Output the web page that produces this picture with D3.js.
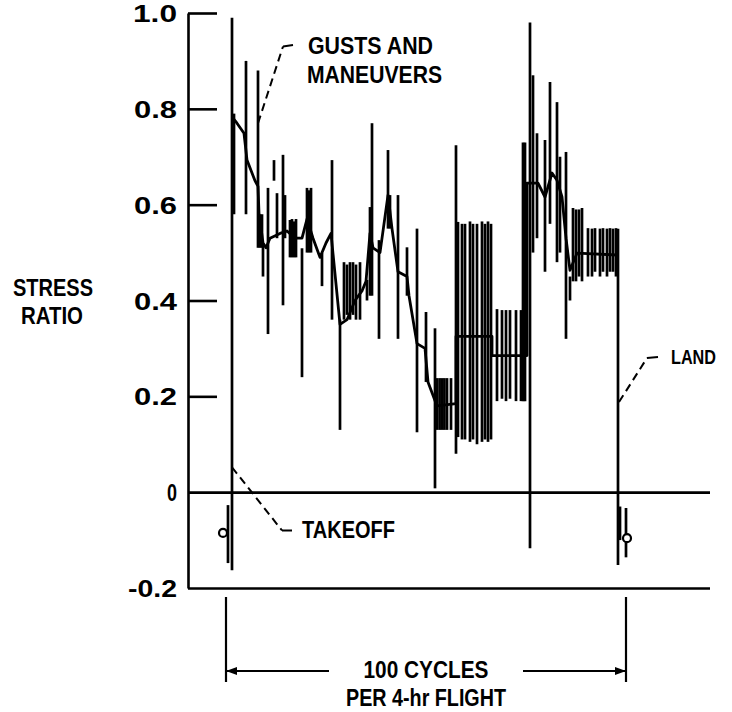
<!DOCTYPE html>
<html><head><meta charset="utf-8">
<script src="https://cdn.jsdelivr.net/npm/d3@7/dist/d3.min.js"></script>
<style>body{margin:0;background:#fff}svg{display:block}</style>
</head><body>
<script>
// ---------- DATA ----------
const yTicks = [-0.2, 0, 0.2, 0.4, 0.6, 0.8, 1.0];
const yTickLabels = ["-0.2", "0", "0.2", "0.4", "0.6", "0.8", "1.0"];

// range bars (cycle position, lowest stress ratio, highest stress ratio)
const barCycle = [0.5, 1.5, 2.0, 5.0, 8.0, 8.5, 9.0, 9.25, 10.5, 12.0, 12.75, 14.25, 14.75,
  16.0, 16.5, 17.0, 17.5, 19.0, 20.25, 20.75, 21.25, 24.0, 26.5, 28.5,
  29.5, 30.25, 31.0, 31.75, 32.5, 33.5, 35.25, 36.0, 36.5, 38.25, 40.5, 41.0, 43.0, 45.25,
  47.75, 50.0, 52.25, 52.75, 53.4, 54.0, 54.6, 55.25, 56.25, 57.5,
  58.0, 59.0, 59.75, 61.0, 61.75, 62.75, 64.0, 64.75, 65.5, 66.25,
  67.75, 69.0, 70.0, 71.0, 72.5, 73.75, 74.25, 74.75, 76.0, 76.75, 77.75, 79.75, 81.0, 82.75,
  83.5, 85.0, 86.0, 86.75, 87.5, 88.25, 89.0,
  90.5, 91.5, 92.25, 93.5, 94.25, 95.25, 96.0, 96.75, 97.5, 98.0, 98.5, 100.0];
const barLow = [-0.148, -0.163, 0.58, 0.58, 0.51, 0.51, 0.51, 0.45, 0.33, 0.65, 0.53, 0.39, 0.53,
  0.49, 0.49, 0.49, 0.49, 0.24, 0.50, 0.50, 0.50, 0.43, 0.36, 0.13,
  0.36, 0.37, 0.36, 0.37, 0.36, 0.36, 0.40, 0.41, 0.41, 0.32, 0.55, 0.55, 0.32, 0.41,
  0.125, 0.23, 0.008, 0.13, 0.13, 0.13, 0.13, 0.13, 0.13, 0.08,
  0.115, 0.11, 0.11, 0.105, 0.11, 0.10, 0.105, 0.11, 0.105, 0.11,
  0.19, 0.195, 0.19, 0.195, 0.19, 0.19, 0.19, 0.19, -0.117, 0.50, 0.53, 0.46, 0.56, 0.48,
  0.50, 0.32, 0.40, 0.44, 0.44, 0.45, 0.44,
  0.45, 0.45, 0.46, 0.45, 0.46, 0.45, 0.46, 0.46, 0.45, -0.152, -0.03, -0.136];
const barHigh = [-0.027, 0.99, 0.79, 0.90, 0.88, 0.58, 0.58, 0.52, 0.635, 0.693, 0.624, 0.704, 0.62,
  0.568, 0.57, 0.565, 0.57, 0.509, 0.635, 0.63, 0.635, 0.499, 0.693, 0.36,
  0.48, 0.475, 0.48, 0.48, 0.475, 0.48, 0.443, 0.595, 0.77, 0.526, 0.714, 0.62, 0.62, 0.511,
  0.55, 0.376, 0.342, 0.238, 0.238, 0.238, 0.238, 0.238, 0.238, 0.724,
  0.564, 0.56, 0.56, 0.565, 0.56, 0.56, 0.565, 0.56, 0.565, 0.56,
  0.382, 0.38, 0.38, 0.38, 0.38, 0.38, 0.73, 0.73, 0.98, 0.87, 0.749, 0.735, 0.856, 0.814,
  0.70, 0.71, 0.45, 0.593, 0.59, 0.59, 0.593,
  0.551, 0.55, 0.551, 0.55, 0.551, 0.55, 0.551, 0.55, 0.551, 0.55, -0.10, -0.033];

// mean stress ratio trace
const meanCycle = [1.5, 2.75, 4.5, 5.25, 7.25, 8.0, 8.25, 9.25, 10.0, 11.0, 13.5, 15.25, 17.25, 19.0,
  20.25, 21.75, 23.5, 25.0, 26.25, 28.5, 30.25, 32.25, 34.0, 35.0, 36.0, 36.75, 38.5, 40.5, 41.5,
  43.0, 45.25, 45.75, 47.75, 49.75, 50.5, 52.75, 57.5, 57.5, 66.5, 66.5, 75.25, 75.25, 78.0,
  79.75, 81.5, 82.75, 84.0, 85.0, 86.0, 87.75, 97.75];
const meanValue = [0.783, 0.77, 0.749, 0.693, 0.65, 0.638, 0.582, 0.52, 0.51, 0.53, 0.54, 0.545, 0.53, 0.53,
  0.57, 0.53, 0.49, 0.52, 0.54, 0.35, 0.36, 0.40, 0.42, 0.44, 0.54, 0.51, 0.50, 0.62, 0.55,
  0.46, 0.45, 0.41, 0.31, 0.30, 0.23, 0.18, 0.185, 0.325, 0.325, 0.285, 0.285, 0.645, 0.645,
  0.616, 0.666, 0.651, 0.616, 0.53, 0.463, 0.499, 0.495];

// ground-phase markers (cycle, stress ratio)
const markerCycle = [-0.75, 100.25];
const markerValue = [-0.085, -0.096];

// ---------- LAYOUT ----------
const W = 732, H = 712;
const FONT = "'Liberation Sans', Arial, sans-serif";
const svg = d3.select("body").append("svg").attr("width", W).attr("height", H);
const x = d3.scaleLinear().domain([0, 100]).range([226, 626]);
const y = d3.scaleLinear().domain([-0.2, 1.0]).range([588, 13]);
const axisX = 188, lineEnd = 710;
const labelWidths = {"-0.2": 49, "0": 10, "0.2": 43, "0.4": 43, "0.6": 43, "0.8": 43, "1.0": 44};

function label(txt, cx, cy, width, anchor, size) {
  const s = size || 23;
  svg.append("text").attr("x", cx).attr("y", cy + s * 0.37)
    .attr("text-anchor", anchor || "start")
    .attr("font-family", FONT).attr("font-weight", "bold").attr("font-size", s)
    .attr("textLength", width).attr("lengthAdjust", "spacingAndGlyphs")
    .attr("fill", "#000").text(txt);
}

// y axis
const yAxis = d3.axisLeft(y).tickValues(yTicks)
  .tickFormat((d, i) => yTickLabels[i])
  .tickSizeInner(-29).tickSizeOuter(0).tickPadding(11);
const gy = svg.append("g").attr("transform", `translate(${axisX},0)`).call(yAxis);
gy.select(".domain").attr("stroke", "#000").attr("stroke-width", 2.6);
gy.selectAll(".tick line").attr("stroke", "#000").attr("stroke-width", 2.6)
  .attr("x2", d => (d <= 0 ? lineEnd - axisX : 29));
gy.selectAll(".tick text").attr("fill", "#000")
  .attr("font-family", FONT).attr("font-weight", "bold").attr("font-size", 23)
  .attr("dy", null).attr("dominant-baseline", null)
  .attr("y", 8.5)
  .attr("textLength", (d, i) => labelWidths[yTickLabels[i]])
  .attr("lengthAdjust", "spacingAndGlyphs");

label("STRESS", 53, 287, 80, "middle");
label("RATIO", 52, 315, 62, "middle");

// range bars
svg.append("g").selectAll("line").data(d3.range(barCycle.length)).join("line")
  .attr("x1", i => x(barCycle[i])).attr("x2", i => x(barCycle[i]))
  .attr("y1", i => y(barLow[i])).attr("y2", i => y(barHigh[i]))
  .attr("stroke", "#000").attr("stroke-width", 2.7);

// mean trace
svg.append("path")
  .datum(d3.range(meanCycle.length))
  .attr("d", d3.line().x(i => x(meanCycle[i])).y(i => y(meanValue[i])))
  .attr("fill", "none").attr("stroke", "#000").attr("stroke-width", 2.8)
  .attr("stroke-linejoin", "round");

// markers
svg.append("g").selectAll("circle").data(d3.range(markerCycle.length)).join("circle")
  .attr("cx", i => x(markerCycle[i])).attr("cy", i => y(markerValue[i]))
  .attr("r", 4).attr("fill", "#fff").attr("stroke", "#000").attr("stroke-width", 2.2);

// annotations with leaders
function leader(pts) {
  const ln = d3.line();
  svg.append("path").attr("d", ln(pts.slice(0, 2))).attr("fill", "none")
    .attr("stroke", "#000").attr("stroke-width", 2).attr("stroke-dasharray", "8,5");
  svg.append("path").attr("d", ln(pts.slice(1))).attr("fill", "none")
    .attr("stroke", "#000").attr("stroke-width", 2);
}
leader([[x(8.0), y(0.77)], [x(14.25), y(0.93)], [x(16.75), y(0.933)]]);
label("GUSTS AND", 308, 45, 125);
label("MANEUVERS", 307, 74, 135);

leader([[x(1.5), y(0.052)], [x(14.0), y(-0.08)], [x(16.5), y(-0.08)]]);
label("TAKEOFF", 302, 529, 93);

leader([[x(98.25), y(0.188)], [x(105.25), y(0.28)], [x(108.0), y(0.282)]]);
label("LAND", 671, 356, 45, "start", 21);

// cycle dimension
const dimY = 671;
[0, 100].forEach(c => {
  svg.append("line").attr("x1", x(c)).attr("x2", x(c)).attr("y1", 597).attr("y2", 682)
    .attr("stroke", "#000").attr("stroke-width", 2.2);
});
label("100 CYCLES", x(50), 669, 125, "middle");
label("PER 4-hr FLIGHT", x(50), 697, 160, "middle");
const gapL = x(50) - 62 - 35, gapR = x(50) + 62 + 35;
svg.append("line").attr("x1", x(0)).attr("x2", gapL).attr("y1", dimY).attr("y2", dimY)
  .attr("stroke", "#000").attr("stroke-width", 2.2);
svg.append("line").attr("x1", gapR).attr("x2", x(100)).attr("y1", dimY).attr("y2", dimY)
  .attr("stroke", "#000").attr("stroke-width", 2.2);
svg.append("path").attr("d", `M${x(0)},${dimY}l11,-4l0,8z`).attr("fill", "#000");
svg.append("path").attr("d", `M${x(100)},${dimY}l-11,-4l0,8z`).attr("fill", "#000");
</script>
</body></html>
